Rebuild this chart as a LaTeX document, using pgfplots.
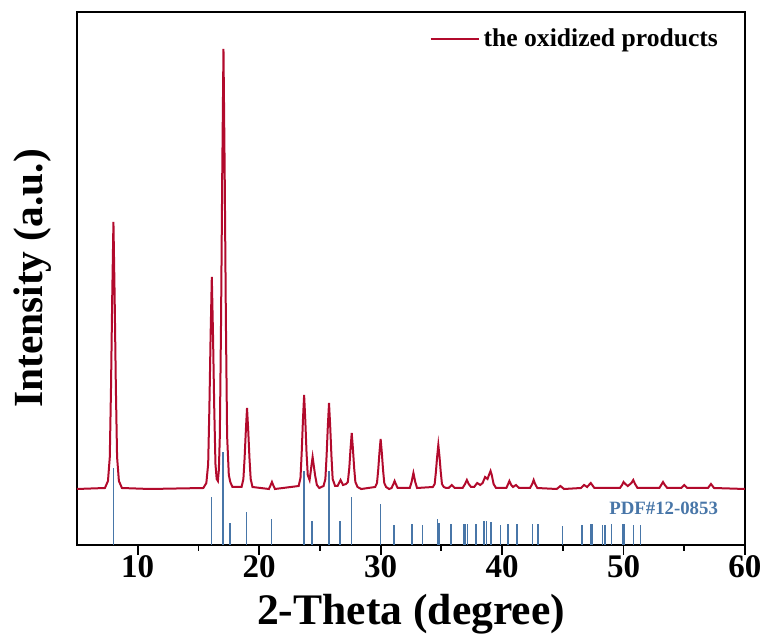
\documentclass[border=0pt]{standalone}
\usepackage{fontspec}
\setmainfont{Liberation Serif}
\usepackage{pgfplots}
\pgfplotsset{compat=1.18}
\definecolor{xrdred}{RGB}{178,10,44}
\definecolor{pdfblue}{RGB}{72,118,168}

\begin{document}
\begin{tikzpicture}
\begin{axis}[
  name=ax,
  scale only axis,
  width=334pt,height=266.5pt,
  xmin=5,xmax=60,ymin=0,ymax=533,
  xtick={10,20,...,60},
  minor xtick={15,25,...,55},
  ytick=\empty,
  tick pos=bottom,tick align=outside,
  major tick length=5pt,minor tick length=3pt,
  every tick/.style={black,line width=0.9pt},
  axis line style={line width=0.9pt},
  /pgf/number format/assume math mode=true,
  xticklabel style={font=\fontsize{16.5}{16.5}\selectfont\bfseries,inner sep=1pt,yshift=1pt},
  xlabel={2-Theta (degree)},
  ylabel={Intensity (a.u.)},
  xlabel style={font=\fontsize{21.8}{21.8}\selectfont\bfseries,inner sep=0pt,
    at={(axis description cs:0.5,-0.13)},anchor=center},
  ylabel style={font=\fontsize{20.7}{20.7}\selectfont\bfseries,
    at={(axis description cs:-0.066,0.5)},anchor=center},
  legend style={draw=none,fill=none,at={(0.975,0.985)},anchor=north east,
    font=\fontsize{12.8}{12.8}\selectfont\bfseries},
  legend cell align=left,
  legend image code/.code={\draw[#1] (0pt,0pt) -- (24pt,0pt);},
]
\addplot[xrdred,line width=1pt] coordinates {
(5,56) (7.3,57) (7.55,64) (7.7,88) (7.8,157) (7.9,248) (8.0,323) (8.1,248) (8.2,157) (8.3,88) (8.45,64) (8.7,57)
(11,56) (15.4,57) (15.65,62) (15.8,81) (15.9,137) (16.0,209) (16.1,268) (16.2,209) (16.3,137) (16.4,81) (16.5,66) (16.6,64)
(16.68,75) (16.76,109) (16.86,223) (16.96,373) (17.06,496) (17.16,373) (17.26,223) (17.36,109) (17.5,70) (17.62,63) (17.8,58)
(18.55,58) (18.7,66) (18.8,87) (18.9,114) (19.0,137) (19.1,114) (19.2,87) (19.3,66) (19.45,58)
(20.8,56) (20.95,60) (21.05,63) (21.15,60) (21.3,56)
(23.25,59) (23.4,67) (23.5,92) (23.6,124) (23.7,150) (23.8,124) (23.9,92) (24.0,70) (24.15,65)
(24.25,74) (24.3,79) (24.4,88) (24.5,79) (24.6,70) (24.75,60) (24.95,57)
(25.3,59) (25.45,66) (25.55,89) (25.65,118) (25.75,142) (25.85,118) (25.95,89) (26.05,66) (26.25,59)
(26.45,59) (26.7,65) (26.9,60) (27.15,61)
(27.3,63) (27.42,77) (27.52,96) (27.62,112) (27.72,96) (27.82,77) (27.92,63) (28.1,58) (28.4,56)
(29.55,58) (29.7,62) (29.8,75) (29.9,92) (30.0,106) (30.1,92) (30.2,75) (30.3,62) (30.45,58) (30.7,56)
(30.9,57) (31.05,61) (31.15,64) (31.25,61) (31.4,57)
(32.4,57) (32.55,63) (32.63,68) (32.7,72) (32.77,68) (32.85,63) (33.0,57)
(34.3,58) (34.45,61) (34.55,73) (34.65,88) (34.75,100) (34.85,88) (34.95,73) (35.05,61) (35.2,58) (35.4,57)
(35.6,57) (35.85,60) (36.1,57)
(36.75,57) (36.95,61) (37.1,65) (37.25,61) (37.45,58)
(37.7,58) (37.95,62) (38.2,60)
(38.4,62) (38.6,68) (38.8,66) (38.95,71) (39.05,74) (39.15,70) (39.3,61) (39.5,57)
(40.35,57) (40.5,61) (40.6,64) (40.75,60) (40.9,58) (41.15,60) (41.4,57)
(42.3,57) (42.48,61) (42.6,65) (42.72,61) (42.9,57)
(44.5,56) (44.8,59) (45.1,56)
(46.5,57) (46.75,60) (47.0,58) (47.3,62) (47.6,57)
(49.7,57) (49.88,60) (50.0,63) (50.15,61) (50.35,59) (50.65,62) (50.8,65) (50.95,61) (51.15,57)
(52.95,57) (53.1,60) (53.25,63) (53.4,60) (53.6,57)
(54.75,57) (55.0,60) (55.25,57)
(56.95,57) (57.2,61) (57.45,57)
(60,56)
};
\addlegendentry{the oxidized products}
\addplot[ycomb,pdfblue,line width=0.8pt,forget plot] coordinates {
(7.99,77) (16.08,48) (17.04,93) (17.6,22) (18.97,33) (21.02,26)
(23.68,74) (24.37,24) (25.74,74) (26.67,24) (27.6,48) (29.99,41)
(31.11,20) (32.6,21) (33.45,20) (34.69,26) (34.8,22) (35.78,21)
(36.88,21) (36.99,21) (37.15,21) (37.84,21) (38.52,24) (38.71,24)
(39.07,23) (39.87,20) (40.5,21) (41.24,21) (42.5,21) (42.97,21)
(44.97,19) (46.59,20) (47.28,21) (47.4,21) (48.27,20) (48.46,20)
(49.0,21) (49.9,21) (50.04,21) (50.83,20) (51.4,20)
};
\node[pdfblue,font=\fontsize{9.4}{9.4}\selectfont\bfseries] at (axis cs:53.3,37) {PDF\#12-0853};
\end{axis}
\path (ax.south west) ++(-38.5pt,-46pt);
\path (ax.north east) ++(11pt,6pt);
\end{tikzpicture}
\end{document}
